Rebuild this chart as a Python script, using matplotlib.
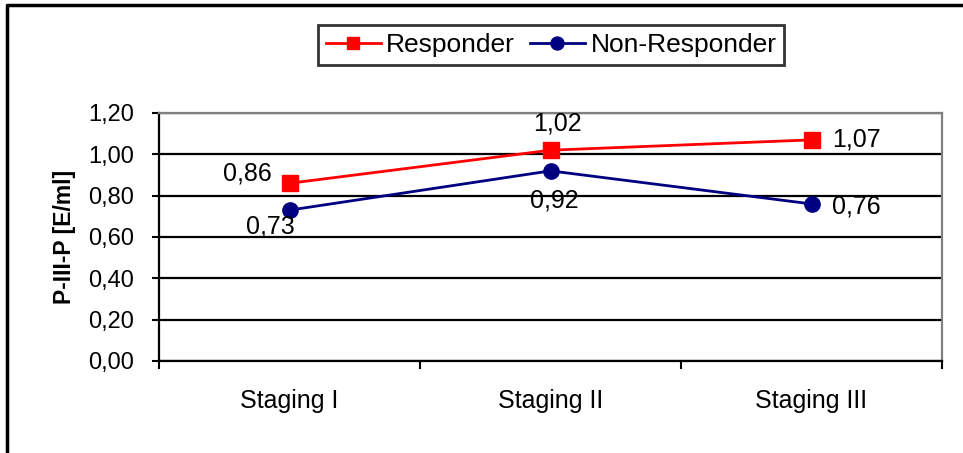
import matplotlib
matplotlib.use("Agg")
import matplotlib.pyplot as plt
from matplotlib.lines import Line2D
from matplotlib.ticker import FuncFormatter

plt.rcParams['font.family'] = ['Liberation Sans', 'DejaVu Sans']

# data
categories = ['Staging I', 'Staging II', 'Staging III']
responder = [0.86, 1.02, 1.07]
non_responder = [0.73, 0.92, 0.76]
y_label = 'P-III-P [E/ml]'

W, H = 963, 453
fig = plt.figure(figsize=(W / 100, H / 100), dpi=100)
ax = fig.add_axes([159 / W, 1 - 361 / H, (942 - 159) / W, (361 - 113) / H])

x = list(range(len(categories)))
ax.plot(x, responder, color='#ff0000', lw=2, marker='s', ms=11,
        label='Responder', zorder=3)
ax.plot(x, non_responder, color='#000080', lw=2, marker='o', ms=11,
        label='Non-Responder', zorder=3)

# data labels (offsets in points)
r_off = [(-30, 7), (5, 19), (32, 0)]
n_off = [(-14, -11.5), (3, -21), (32, -1.5)]
for i in x:
    ax.annotate(f'{responder[i]:.2f}'.replace('.', ','), (i, responder[i]),
                xytext=r_off[i], textcoords='offset points',
                ha='center', va='center', fontsize=18)
    ax.annotate(f'{non_responder[i]:.2f}'.replace('.', ','), (i, non_responder[i]),
                xytext=n_off[i], textcoords='offset points',
                ha='center', va='center', fontsize=18)

ax.set_xlim(-0.5, len(categories) - 0.5)
ax.set_ylim(0, 1.2)
ax.set_yticks([0.0, 0.2, 0.4, 0.6, 0.8, 1.0, 1.2])
ax.yaxis.set_major_formatter(FuncFormatter(lambda v, p: f'{v:.2f}'.replace('.', ',')))
ax.set_xticks([-0.5, 0.5, 1.5, 2.5])
ax.set_xticklabels([])
ax.set_xticks(x, minor=True)
ax.set_xticklabels(categories, minor=True, fontsize=18)
ax.tick_params(axis='x', which='major', direction='out', length=6, width=1.5, color='black')
ax.tick_params(axis='x', which='minor', length=0, pad=20)
ax.tick_params(axis='y', direction='out', length=5, width=1.5, labelsize=17, pad=13)

ax.grid(axis='y', color='black', lw=1.6)
ax.set_axisbelow(True)
for s in ['left', 'bottom']:
    ax.spines[s].set_color('black')
    ax.spines[s].set_linewidth(1.6)
for s in ['top', 'right']:
    ax.spines[s].set_color('#808080')
    ax.spines[s].set_linewidth(1.6)

ax.set_ylabel(y_label, fontsize=16.5, fontweight='bold', labelpad=9)

leg = fig.legend(loc='center', bbox_to_anchor=(551 / W, 1 - 45 / H),
                 ncol=2, fontsize=19, frameon=True, fancybox=False,
                 handlelength=2.1, columnspacing=0.55, handletextpad=0.2,
                 borderpad=0.3, markerscale=0.85)
leg.get_frame().set_edgecolor('black')
leg.get_frame().set_linewidth(2)

# outer frame, open to the right and bottom
fig.add_artist(Line2D([6.5 / W, 6.5 / W, 1.0], [0.0, 1 - 4.5 / H, 1 - 4.5 / H],
                      transform=fig.transFigure, color='black', lw=2.5))

fig.savefig('out.png', dpi=100)
